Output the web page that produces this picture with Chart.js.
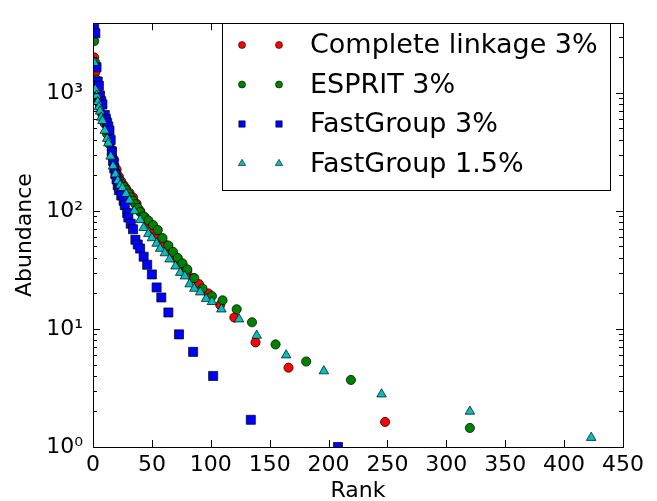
<!DOCTYPE html>
<html lang="en">
<head>
    <meta charset="UTF-8">
    <title>Rank abundance</title>
    <script src="https://cdn.jsdelivr.net/npm/chart.js"></script>
    <style>
        html, body { margin: 0; padding: 0; background: #fff; }
        #wrap { width: 657px; height: 501px; }
    </style>
</head>
<body>
<div id="wrap"><canvas id="chart" width="657" height="501"></canvas></div>
<script>
// Series names (legend order)
const seriesNames = ["Complete linkage 3%", "ESPRIT 3%", "FastGroup 3%", "FastGroup 1.5%"];

// Complete linkage 3%
const clRank = [1, 2, 3, 4, 5, 6, 8, 10, 12, 14, 16, 18, 20, 22, 24, 26, 28, 31, 34, 37, 40, 44, 48, 52, 56, 60, 65, 70, 75, 80, 85, 90, 98, 108, 120, 138, 166, 248];
const clAbund = [2000, 1500, 1150, 950, 850, 760, 660, 560, 470, 400, 330, 270, 225, 195, 178, 165, 155, 142, 130, 115, 100, 88, 78, 68, 60, 53, 46, 40, 35, 31, 27, 24, 20, 16, 12.5, 7.7, 4.7, 1.63];

// ESPRIT 3%
const esRank = [1, 2, 3, 4, 5, 6, 8, 10, 12, 14, 16, 18, 20, 22, 24, 26, 28, 30, 32, 34, 36, 38, 40, 43, 47, 51, 55, 59, 64, 68, 72, 76, 80, 86, 93, 101, 110, 122, 135, 155, 181, 219, 320];
const esAbund = [2750, 1800, 1300, 1000, 880, 780, 660, 550, 450, 370, 300, 245, 210, 185, 170, 160, 150, 140, 130, 122, 114, 106, 98, 90, 83, 76, 69, 59, 51, 45, 40, 36, 32, 27, 22, 19, 17.5, 14.7, 11.4, 7.4, 5.3, 3.7, 1.45];

// FastGroup 3%
const fg3Rank = [1, 2, 3, 4, 5, 6, 7, 8, 10, 11, 12, 13, 14, 15, 16, 17, 18, 19, 20, 21, 22, 24, 26, 27, 29, 30, 32, 34, 36, 38, 40, 43, 46, 50, 54, 58, 64, 73, 85, 102, 134, 208];
const fg3Abund = [3500, 3200, 1650, 1250, 1150, 950, 850, 800, 650, 600, 560, 520, 480, 400, 320, 265, 230, 205, 185, 165, 150, 135, 122, 112, 96, 88, 78, 70, 57, 52, 48, 41, 35, 29, 22.5, 18.5, 13.8, 9, 6.4, 4, 1.7, 1];

// FastGroup 1.5%
const fg15Rank = [1, 2, 3, 4, 5, 6, 7, 8, 10, 12, 13, 15, 17, 19, 21, 23, 25, 28, 31, 35, 40, 43, 47, 50, 54, 57, 61, 65, 70, 74, 78, 82, 86, 91, 96, 101, 109, 124, 139, 164, 196, 245, 320, 423];
const fg15Abund = [1800, 1070, 950, 840, 760, 700, 620, 580, 480, 410, 375, 290, 240, 205, 180, 165, 157, 140, 123, 100, 84, 72, 64, 59, 53, 48, 44, 39, 34, 30, 28, 24, 22, 20.5, 18, 17, 14.7, 12.1, 8.8, 6.0, 4.4, 2.8, 2.0, 1.2];

// Axis ticks
const xTicks = [0, 50, 100, 150, 200, 250, 300, 350, 400, 450];
const yTicks = [1, 10, 100, 1000];
const yTickLabels = ["10\u2070", "10\u00B9", "10\u00B2", "10\u00B3"];

function toPoints(xs, ys) {
    return xs.map((x, i) => ({ x: x, y: ys[i] }));
}

const FONT = "'DejaVu Sans', sans-serif";

// Inside ticks, full frame and the matplotlib-style legend
const framePlugin = {
    id: 'framePlugin',
    afterDatasetsDraw(chart) {
        const ctx = chart.ctx;
        const a = chart.chartArea;
        const xs = chart.scales.x, ys = chart.scales.y;
        ctx.save();
        ctx.strokeStyle = '#000';
        ctx.lineWidth = 1;
        ctx.beginPath();
        // x major ticks (bottom and top)
        xTicks.forEach(v => {
            const px = Math.round(xs.getPixelForValue(v)) + 0.5;
            ctx.moveTo(px, a.bottom); ctx.lineTo(px, a.bottom - 7);
            ctx.moveTo(px, a.top); ctx.lineTo(px, a.top + 7);
        });
        // y major + minor ticks (left and right)
        for (let d = 0; d <= 3; d++) {
            for (let m = 1; m <= 9; m++) {
                const v = m * Math.pow(10, d);
                if (v > ys.max) break;
                const py = Math.round(ys.getPixelForValue(v)) + 0.5;
                const len = m === 1 ? 7 : 4;
                ctx.moveTo(a.left, py); ctx.lineTo(a.left + len, py);
                ctx.moveTo(a.right, py); ctx.lineTo(a.right - len, py);
            }
        }
        ctx.stroke();
        ctx.strokeRect(Math.round(a.left) + 0.5, Math.round(a.top) + 0.5,
            Math.round(a.right - a.left), Math.round(a.bottom - a.top));

        // legend
        const bx = 222, by = 23, bw = 388, bh = 167;
        ctx.fillStyle = '#fff';
        ctx.fillRect(bx, by, bw, bh);
        ctx.strokeRect(bx + 0.5, by + 0.5, bw, bh);
        ctx.font = '27px ' + FONT;
        ctx.textBaseline = 'middle';
        ctx.textAlign = 'left';
        const legendRadius = { circle: 3.5, rect: 4.5, triangle: 4.2 };
        chart.data.datasets.forEach((ds, i) => {
            const cy = 45 + i * 39.5;
            ctx.fillStyle = ds.backgroundColor;
            ctx.strokeStyle = '#000';
            ctx.lineWidth = 0.6;
            [242, 279].forEach(cx => {
                Chart.helpers.drawPoint(ctx, {
                    pointStyle: ds.pointStyle,
                    radius: legendRadius[ds.pointStyle],
                    rotation: 0,
                    borderWidth: 0.6
                }, cx, cy);
            });
            ctx.fillStyle = '#000';
            ctx.fillText(ds.label, 310, cy + 1);
        });
        ctx.restore();
    }
};

const ctx = document.getElementById('chart').getContext('2d');
new Chart(ctx, {
    type: 'scatter',
    data: {
        datasets: [
            {
                label: seriesNames[0],
                data: toPoints(clRank, clAbund),
                pointStyle: 'circle', pointRadius: 4.6,
                backgroundColor: '#ff0000', borderColor: '#000', borderWidth: 0.7,
                order: 3
            },
            {
                label: seriesNames[1],
                data: toPoints(esRank, esAbund),
                pointStyle: 'circle', pointRadius: 4.6,
                backgroundColor: '#008000', borderColor: '#000', borderWidth: 0.7,
                order: 2
            },
            {
                label: seriesNames[2],
                data: toPoints(fg3Rank, fg3Abund),
                pointStyle: 'rect', pointRadius: 6.4,
                backgroundColor: '#0000ff', borderColor: '#000', borderWidth: 0.7,
                order: 1
            },
            {
                label: seriesNames[3],
                data: toPoints(fg15Rank, fg15Abund),
                pointStyle: 'triangle', pointRadius: 5.5,
                backgroundColor: '#00bfbf', borderColor: '#000', borderWidth: 0.7,
                order: 0
            }
        ]
    },
    options: {
        responsive: false,
        animation: false,
        devicePixelRatio: 1,
        layout: { padding: { left: 0, top: 9, right: 34, bottom: 0 } },
        plugins: {
            legend: { display: false },
            tooltip: { enabled: false }
        },
        scales: {
            x: {
                type: 'linear',
                min: 0, max: 450,
                grid: { display: false, drawTicks: false },
                border: { display: false },
                afterBuildTicks: scale => { scale.ticks = xTicks.map(v => ({ value: v })); },
                afterFit: scale => { scale.height = 54; },
                ticks: {
                    color: '#000', padding: 5,
                    font: { family: FONT, size: 22 },
                    maxRotation: 0, autoSkip: false
                },
                title: {
                    display: true, text: 'Rank', color: '#000',
                    font: { family: FONT, size: 22, lineHeight: 0.9 },
                    padding: { top: 0, bottom: 0 }
                }
            },
            y: {
                type: 'logarithmic',
                min: 1, max: 3900,
                grid: { display: false, drawTicks: false },
                border: { display: false },
                afterBuildTicks: scale => { scale.ticks = yTicks.map(v => ({ value: v })); },
                afterFit: scale => { scale.width = 93; },
                ticks: {
                    color: '#000', padding: 10,
                    font: { family: FONT, size: 22 },
                    callback: (value) => {
                        const i = yTicks.indexOf(value);
                        return i >= 0 ? yTickLabels[i] : '';
                    }
                },
                title: {
                    display: true, text: 'Abundance', color: '#000',
                    font: { family: FONT, size: 22 },
                    padding: { top: 12, bottom: 0 }
                }
            }
        }
    },
    plugins: [framePlugin]
});
</script>
</body>
</html>
